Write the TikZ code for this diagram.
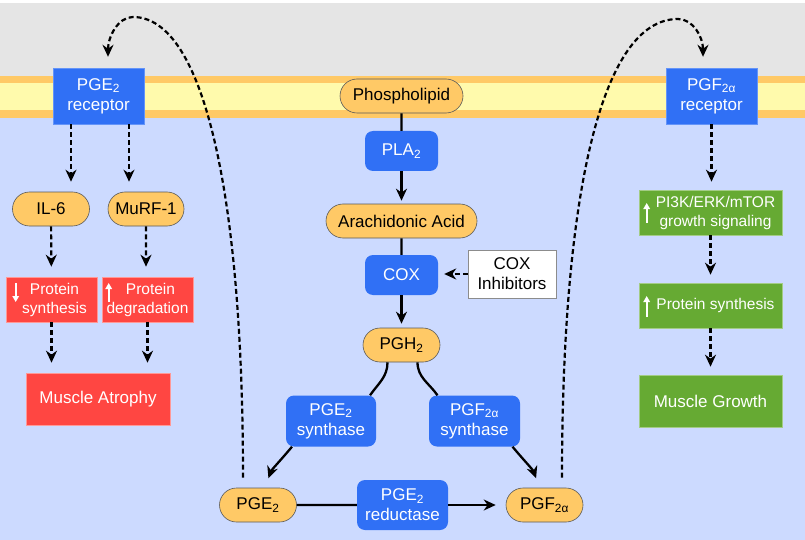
\documentclass[tikz,border=0pt]{standalone}
\usepackage{fontspec}
\setmainfont{Liberation Sans}
\usetikzlibrary{shapes.misc,arrows.meta,calc}
\usepackage{xcolor}

\definecolor{membgray}{RGB}{229,229,229}
\definecolor{lipidorange}{RGB}{255,201,102}
\definecolor{lipidyellow}{RGB}{255,250,172}
\definecolor{cytoblue}{RGB}{204,218,255}
\definecolor{enzblue}{RGB}{48,112,245}
\definecolor{pillorange}{RGB}{255,201,102}
\definecolor{atrored}{RGB}{255,70,66}
\definecolor{growgreen}{RGB}{102,170,51}

\newcommand{\subs}[1]{\textsubscript{#1}}
\newcommand{\boxfont}{\fontsize{15.5}{19}\selectfont}

\tikzset{
  enzyme/.style={fill=enzblue, rounded corners=8pt, text=white, align=center,
    minimum width=73pt, minimum height=40pt, inner sep=0pt},
  receptor/.style={fill=enzblue, draw=enzblue!75!white, text=white, align=center,
    minimum width=91pt, minimum height=56pt, inner sep=0pt},
  metab/.style={rounded rectangle, fill=pillorange, draw=black!65, line width=0.6pt,
    minimum width=77pt, minimum height=34pt, inner sep=0pt},
  inhibit/.style={fill=white, draw=black!45, line width=0.6pt, align=center,
    minimum width=88pt, minimum height=48pt, inner sep=0pt},
  redbox/.style={fill=atrored, draw=atrored!55!white, line width=0.6pt, text=white,
    align=center, minimum width=91pt, minimum height=45pt, inner sep=0pt, font=\boxfont},
  greenbox/.style={fill=growgreen, draw=growgreen!60!white, line width=0.6pt, text=white,
    align=center, minimum width=143pt, minimum height=45pt, inner sep=0pt, font=\boxfont},
  levelarrow/.style={draw=white, line width=1.6pt, -{Triangle[length=6pt,width=6.5pt]}},
  solidline/.style={line width=2.3pt},
  solidarrow/.style={line width=2.3pt, -{Stealth[length=12pt,width=11pt]}},
  dasharrow/.style={line width=2.2pt, dash pattern=on 5pt off 3pt, -{Stealth[length=12pt,width=11pt]}}
}

\begin{document}
\begin{tikzpicture}[x=1pt,y=-1pt,font=\fontsize{17}{20}\selectfont]
\useasboundingbox (0,0) rectangle (805,540);
% cell: outside, membrane, cytoplasm
\fill[white] (0,0) rectangle (805,540);
\fill[membgray] (0,3) rectangle (805,77);
\fill[lipidorange] (0,76) rectangle (805,118);
\fill[lipidyellow] (0,83) rectangle (805,110);
\fill[cytoblue] (0,118) rectangle (805,540);

% central pathway
\node[metab, minimum width=123pt] (phos) at (401.5,96) {Phospholipid};
\node[enzyme] (pla) at (401.5,151) {PLA\subs{2}};
\node[metab, minimum width=151pt] (arach) at (401.5,221) {Arachidonic Acid};
\node[enzyme] (cox) at (401.5,275) {COX};
\node[inhibit] (inhib) at (512,274) {COX\\Inhibitors};
\node[metab] (pgh) at (401.5,345) {PGH\subs{2}};
\node[enzyme, minimum width=90pt, minimum height=51pt] (pgesyn) at (331,421) {PGE\subs{2}\\synthase};
\node[enzyme, minimum width=91pt, minimum height=51pt] (pgfsyn) at (474.5,421) {PGF\subs{2α}\\synthase};
\node[metab] (pge) at (258,505) {PGE\subs{2}};
\node[enzyme, minimum width=91pt, minimum height=50pt] (pgered) at (402.5,505) {PGE\subs{2}\\reductase};
\node[metab] (pgf) at (544.5,505) {PGF\subs{2α}};

% receptors in the membrane
\node[receptor] (pgerec) at (98.5,96) {PGE\subs{2}\\receptor};
\node[receptor] (pgfrec) at (711.5,96) {PGF\subs{2α}\\receptor};

% atrophy side
\node[metab] (il6) at (51,209) {IL-6};
\node[metab, minimum width=76pt] (murf) at (146,209) {MuRF-1};
\node[redbox] (protsyn) at (51.5,299.5) {\hspace*{6pt}Protein\\\hspace*{6pt}synthesis};
\node[redbox] (protdeg) at (147.5,299.5) {\hspace*{6pt}Protein\\degradation};
\node[redbox, minimum width=144pt, minimum height=52pt, font=\fontsize{17}{20}\selectfont] (atrophy) at (98,399) {Muscle Atrophy};
\draw[levelarrow] ($(protsyn.west)+(10,-16.5)$) -- ($(protsyn.west)+(10,2.5)$);
\draw[levelarrow] ($(protdeg.west)+(7,2.5)$) -- ($(protdeg.west)+(7,-16.5)$);

% growth side
\node[greenbox] (pi3k) at (710.5,212.5) {\hspace*{10pt}PI3K/ERK/mTOR\\\hspace*{10pt}growth signaling};
\node[greenbox] (protgrow) at (710.5,305.5) {\hspace*{10pt}Protein synthesis};
\node[greenbox, minimum height=52pt, font=\fontsize{17}{20}\selectfont] (growth) at (710.5,401) {Muscle Growth};
\draw[levelarrow] ($(pi3k.west)+(8,10.5)$) -- ($(pi3k.west)+(8,-9.5)$);
\draw[levelarrow] ($(protgrow.west)+(8,11.5)$) -- ($(protgrow.west)+(8,-9.5)$);

% pathway connectors
\draw[solidline] (phos) -- (pla);
\draw[solidarrow, shorten >=3pt] (pla) -- (arach);
\draw[solidline] (arach) -- (cox);
\draw[solidarrow, shorten >=4pt] (cox) -- (pgh);
\draw[dasharrow, shorten >=6pt] (inhib.west) -- (inhib.west -| cox.east);
\draw[solidline] ([xshift=-14pt]pgh.south) to[out=-90,in=55] ([xshift=39pt]pgesyn.north);
\draw[solidarrow, shorten >=10pt] ([xshift=-39pt]pgesyn.south) to[out=-130,in=70] ([xshift=7pt]pge.north);
\draw[solidline] ([xshift=16pt]pgh.south) to[out=-90,in=125] ([xshift=-37pt]pgfsyn.north);
\draw[solidarrow, shorten >=10pt] ([xshift=38pt]pgfsyn.south) to[out=-50,in=110] ([xshift=-5pt]pgf.north);
\draw[solidline] (pge) -- (pgered);
\draw[solidarrow, shorten >=10pt] (pgered) -- (pgf);

% back to the receptors
\coordinate (pgepeak) at (133,17);
\coordinate (pgfpeak) at (678,19);
\draw[dasharrow, shorten <=10pt, shorten >=11pt] ([xshift=-15pt]pge.north)
  .. controls +(0,-288) and +(72,0) .. (pgepeak)
  .. controls +(-15,0) and +(0,-31) .. ([xshift=9.5pt]pgerec.north);
\draw[dasharrow, shorten <=10pt, shorten >=11pt] ([xshift=17.5pt]pgf.north)
  .. controls +(0,-288) and +(-78,0) .. (pgfpeak)
  .. controls +(15,0) and +(0,-31) .. ([xshift=-8.5pt]pgfrec.north);

% signaling to atrophy
\draw[dasharrow, shorten >=10pt] ($(pgerec.south)+(-27.5,0)$) -- ($(il6.north)+(20,0)$);
\draw[dasharrow, shorten >=10pt] ($(pgerec.south)+(30.5,0)$) -- ($(murf.north)+(-17,0)$);
\draw[dasharrow, shorten >=10pt] (il6) -- (protsyn);
\draw[dasharrow, shorten >=10pt] (murf) -- (murf |- protdeg.north);
\draw[dasharrow, shorten >=10pt] (protsyn.south) -- (protsyn.south |- atrophy.north);
\draw[dasharrow, shorten >=10pt] (protdeg.south) -- (protdeg.south |- atrophy.north);

% signaling to growth
\draw[dasharrow, shorten >=8pt] (pgfrec.south) -- (pgfrec.south |- pi3k.north);
\draw[dasharrow, shorten >=8pt] (pi3k) -- (protgrow);
\draw[dasharrow, shorten >=8pt] (protgrow) -- (growth);
\end{tikzpicture}
\end{document}
